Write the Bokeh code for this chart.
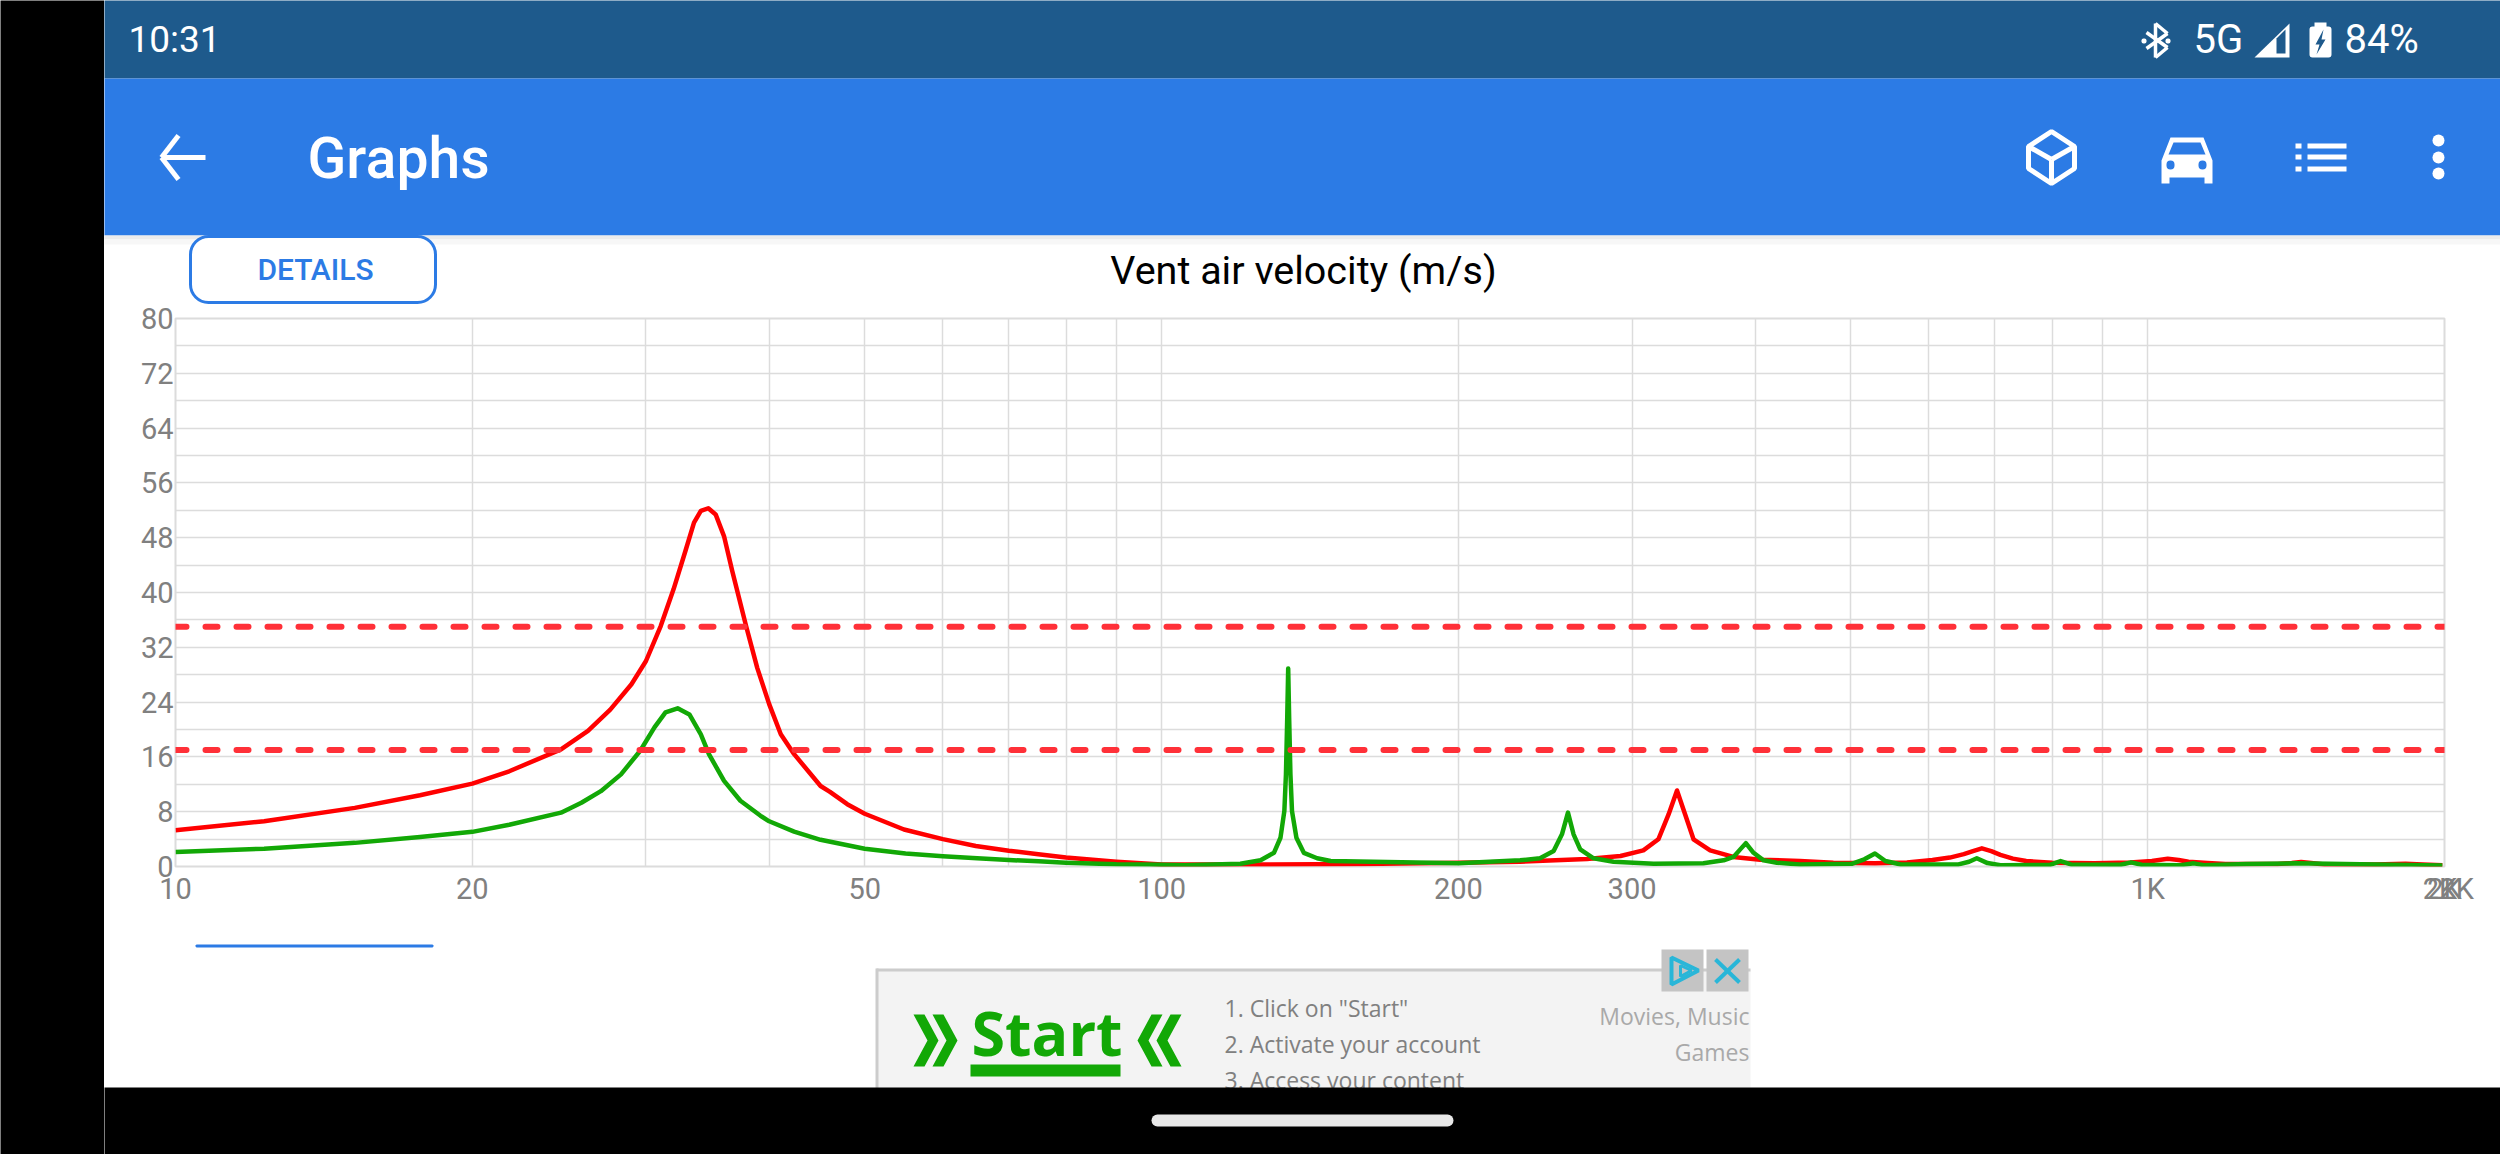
# vent air velocity graph, phone screenshot
from bokeh.embed import file_html
from bokeh.layouts import column, row
from bokeh.models import BoxAnnotation, FixedTicker, Label, PolyAnnotation, Range1d
from bokeh.plotting import figure
from bokeh.resources import INLINE

# values
red_freq = [10, 12.3, 15.2, 17.7, 20, 21.8, 24.6, 26.2, 27.6, 29, 30, 31.05, 32, 32.9, 33.56, 34.1, 34.7, 35.3, 36, 36.7,
            37.9, 38.9, 40, 41.1, 42.4, 45.1, 46.1, 48, 50, 54.8, 60, 64.8, 70, 75, 80, 90, 100, 126, 160, 200,
            231, 270, 292, 308, 319, 326.7, 333.2, 339.6, 346.3, 360, 380, 404.6, 444, 480, 529, 570, 605, 630, 651,
            665, 679, 694, 709, 730, 753, 800, 883, 960, 1010, 1048, 1075, 1100, 1150, 1199, 1354, 1400, 1431, 1465, 1511,
            1700, 1826, 1900, 1990]
red_vals = [5.3, 6.6, 8.56, 10.4, 12.1, 13.9, 17.1, 19.8, 22.9, 26.6, 30, 35.1, 40.5, 46.1, 50.2, 51.9, 52.3, 51.4, 48.2, 43.1,
            35.1, 29, 23.7, 19.3, 16.4, 11.75, 10.9, 9.1, 7.7, 5.4, 4, 3, 2.3, 1.8, 1.3, 0.7, 0.3, 0.3, 0.35, 0.56,
            0.7, 1.1, 1.53, 2.36, 3.97, 7.6, 11.1, 7.6, 3.97, 2.36, 1.4, 1, 0.8, 0.56, 0.46, 0.6, 0.95, 1.3, 1.8,
            2.25, 2.65, 2.25, 1.7, 1.15, 0.8, 0.55, 0.46, 0.6, 0.8, 1.14, 0.95, 0.7, 0.5, 0.37, 0.37, 0.5, 0.66, 0.5, 0.3,
            0.3, 0.41, 0.3, 0.2]
green_freq = [10, 12.3, 15.2, 17.7, 20, 21.8, 24.6, 25.8, 27, 28.3, 29.6, 30.6, 31.4, 32.3, 33.2, 34.1, 34.75, 36, 37.4,
              39.2, 40, 42.4, 45.1, 50, 55, 60, 65, 70, 75, 80, 90, 100, 105.6, 120.2, 126, 130, 132, 133.2, 133.7,
              134.1, 134.4, 134.7, 135.1, 135.6, 137, 139.4, 143.8, 148.4, 200, 231, 242, 249.8, 254.7, 258.3, 261.7,
              265.8, 274.2, 287.3, 315.5, 354.4, 371.5, 380.2, 386.2, 391.3, 398.4, 407.8, 420.7, 444, 501, 516, 529, 542,
              562, 643, 659, 671, 688, 709, 796, 816, 836, 939, 962, 986, 1080, 1114, 1141, 1259, 1413, 1990]
green_vals = [2.1, 2.6, 3.45, 4.3, 5.06, 6.1, 7.86, 9.3, 11, 13.45, 16.9, 20.3, 22.5, 23.1, 22.2, 19.3, 16.4, 12.5, 9.6,
              7.4, 6.6, 5.1, 3.9, 2.6, 1.9, 1.5, 1.2, 0.95, 0.75, 0.56, 0.32, 0.27, 0.17, 0.4, 0.9, 2, 4.2, 8.1, 13.5,
              21.7, 28.9, 21.7, 13.5, 8.1, 4.2, 2, 1.2, 0.8, 0.46, 0.9, 1.2, 2.26, 4.7, 7.86, 4.7,
              2.5, 1.2, 0.7, 0.41, 0.46, 0.9, 1.4, 2.5, 3.4, 2, 0.9, 0.56, 0.3, 0.4, 1.05, 1.9, 0.8,
              0.3, 0.3, 0.7, 1.2, 0.5, 0.2, 0.25, 0.8, 0.3, 0.25, 0.6, 0.25, 0.2, 0.46, 0.2, 0.37, 0.46, 0.15]
limit_freq = [10, 2000]
limit_high = [35, 35]
limit_low = [17, 17]

# the app piles several 2K labels up at the right end, hence the three last ticks
x_tick_vals = [10, 20, 50, 100, 200, 300, 1000, 1979, 1990, 2000]
x_tick_text = ["10", "20", "50", "100", "200", "300", "1K", "2K", "\u00a0\u00a0\u00a0\u00a02K", "2K"]
x_grid_vals = [10, 20, 30, 40, 50, 60, 70, 80, 90, 100, 200, 300, 400, 500, 600, 700, 800, 900, 1000, 2000]
y_tick_vals = [0, 8, 16, 24, 32, 40, 48, 56, 64, 72, 80]
y_grid_vals = [0, 4, 8, 12, 16, 20, 24, 28, 32, 36, 40, 44, 48, 52, 56, 60, 64, 68, 72, 76, 80]

RED = "#ff0000"
GREEN = "#12a806"
DASH = "#ff3038"
GRID = "#dcdcdc"
TICK = "#808080"
BAR = "#1e5a8c"
BLUE = "#2c7be5"

# the chart itself
p = figure(width=2396, height=625, x_axis_type="log", output_backend="svg", toolbar_location=None,
           x_range=Range1d(10, 2000), y_range=Range1d(0, 80), frame_align=False,
           min_border_left=71, min_border_right=56, min_border_top=13, min_border_bottom=64)
p.background_fill_color = "white"
p.border_fill_color = "white"
p.outline_line_color = GRID
p.outline_line_width = 2

p.xaxis.ticker = FixedTicker(ticks=x_tick_vals)
p.xaxis.major_label_overrides = dict(zip(x_tick_vals, x_tick_text))
p.yaxis.ticker = FixedTicker(ticks=y_tick_vals)
p.xgrid.ticker = FixedTicker(ticks=x_grid_vals)
p.ygrid.ticker = FixedTicker(ticks=y_grid_vals)
p.xgrid.grid_line_color = GRID
p.ygrid.grid_line_color = GRID
p.xgrid.grid_line_width = 1.5
p.ygrid.grid_line_width = 1.5
for ax in (p.xaxis[0], p.yaxis[0]):
    ax.axis_line_color = None
    ax.major_tick_line_color = None
    ax.minor_tick_line_color = None
    ax.major_tick_in = 0
    ax.major_tick_out = 0
    ax.major_label_text_font = "Roboto"
    ax.major_label_text_font_size = "29px"
    ax.major_label_text_color = TICK
p.xaxis.major_label_standoff = 5
p.yaxis.major_label_standoff = 2

p.line(red_freq, red_vals, line_color=RED, line_width=4.5, line_join="round")
p.line(green_freq, green_vals, line_color=GREEN, line_width=4.5, line_join="round")
p.line(limit_freq, limit_high, line_color=DASH, line_width=6, line_dash="12 19", line_dash_offset=1, line_cap="round")
p.line(limit_freq, limit_low, line_color=DASH, line_width=6, line_dash="12 19", line_dash_offset=1, line_cap="round")


# the rest of the screen: plain figures whose ranges are the page's pixels
def screen_part(width, height, left, right, top, bottom):
    fig = figure(width=width, height=height, output_backend="svg", toolbar_location=None,
                 x_axis_location=None, y_axis_location=None, frame_align=False,
                 x_range=Range1d(left, right), y_range=Range1d(bottom, top),
                 min_border=0, min_border_left=0, min_border_right=0, min_border_top=0, min_border_bottom=0)
    fig.grid.visible = False
    fig.outline_line_color = None
    fig.background_fill_color = "white"
    fig.border_fill_color = "white"
    return fig


def box(fig, left, top, right, bottom, color, radius=0, border=None, border_width=0):
    fig.add_layout(BoxAnnotation(left=left, right=right, top=top, bottom=bottom,
                                 fill_color=color, fill_alpha=1, line_color=border, line_alpha=1,
                                 line_width=border_width, border_radius=radius, level="annotation"))


def poly(fig, points, color=None, border=None, border_width=0):
    fig.add_layout(PolyAnnotation(xs=[a for a, b in points], ys=[b for a, b in points],
                                  fill_color=color, fill_alpha=1 if color else 0, line_color=border, line_alpha=1,
                                  line_width=border_width, level="annotation"))


def stroke(fig, x0, y0, x1, y1, width, color="white"):
    dx, dy = x1 - x0, y1 - y0
    size = (dx * dx + dy * dy) ** 0.5
    nx, ny = -dy / size * width / 2, dx / size * width / 2
    poly(fig, [(x0 + nx, y0 + ny), (x1 + nx, y1 + ny), (x1 - nx, y1 - ny), (x0 - nx, y0 - ny)], color)


def text(fig, x, y, s, size, color="white", font="Roboto", align="left", style="normal"):
    fig.add_layout(Label(x=x, y=y, text=s, text_font=font, text_font_size=f"{size}px", text_color=color,
                         text_align=align, text_baseline="middle", text_font_style=style, level="annotation"))


def chevron(fig, x, y, direction):
    w, h, t = 14 * direction, 26, 11 * direction
    poly(fig, [(x, y - h), (x + t, y - h), (x + t + w, y), (x + t, y + h), (x, y + h), (x + w, y)], GREEN)


side = screen_part(104, 1154, 0, 104, 0, 1154)
box(side, -10, -10, 114, 1164, "black")

top = screen_part(2396, 305, 104, 2500, 0, 305)

# status bar and app bar (boxes run past the edges so no seams show)
box(top, 94, -10, 2510, 78, BAR)
box(top, 94, 78, 2510, 235, BLUE)
box(top, 94, 235, 2510, 239, "#ececec")
box(top, 94, 239, 2510, 244, "#f7f7f7")
text(top, 128, 39, "10:31", 37)
text(top, 2193, 39, "5G", 40)
text(top, 2344, 39, "84%", 40)
text(top, 307, 158, "Graphs", 57, font="Roboto Medium")

# bluetooth
for seg in [(2155, 23, 2155, 57), (2155, 23, 2167, 33), (2167, 33, 2146, 48), (2155, 57, 2167, 47), (2167, 47, 2146, 32)]:
    stroke(top, *seg, 3.5)
box(top, 2141, 38, 2146, 43, "white", radius=2)
box(top, 2165, 38, 2170, 43, "white", radius=2)
# signal
poly(top, [(2289, 23), (2289, 57), (2254, 57)], "white")
poly(top, [(2276, 38), (2285, 29), (2285, 53), (2276, 53)], BAR)
# battery
box(top, 2314, 22, 2326, 27, "white")
box(top, 2309, 26, 2331, 57, "white", radius=3)
poly(top, [(2323, 29), (2315, 44), (2319, 44), (2316, 54), (2325, 39), (2321, 39)], BAR)

# back arrow
stroke(top, 161, 157, 205, 157, 5)
stroke(top, 161, 157, 178, 135, 5)
stroke(top, 161, 157, 178, 179, 5)

# cube
poly(top, [(2051, 131), (2074, 146), (2074, 168), (2051, 183), (2028, 168), (2028, 146)], None, "white", 5)
stroke(top, 2028, 146, 2051, 159, 5)
stroke(top, 2074, 146, 2051, 159, 5)
stroke(top, 2051, 159, 2051, 183, 5)

# car
poly(top, [(2170, 137), (2203, 137), (2212, 160), (2212, 183), (2204, 183), (2204, 177), (2169, 177), (2169, 183),
           (2161, 183), (2161, 160)], "white")
poly(top, [(2173, 142), (2200, 142), (2205, 154), (2168, 154)], BLUE)
box(top, 2166, 160, 2174, 169, BLUE, radius=4)
box(top, 2198, 160, 2206, 169, BLUE, radius=4)

# list
for y in (143, 154, 166):
    box(top, 2295, y, 2301, y + 5, "white")
    box(top, 2307, y, 2346, y + 5, "white")

# menu dots
for cy in (140, 157, 173):
    box(top, 2432, cy - 6, 2444, cy + 6, "white", radius=6)

box(top, 190, 236, 435, 302, "white", radius=18, border=BLUE, border_width=3)
text(top, 315, 269, "DETAILS", 30, BLUE, align="center", font="Roboto Medium")
text(top, 1303, 270, "Vent air velocity (m/s)", 39.5, "black", align="center")

bottom = screen_part(2396, 224, 104, 2500, 930, 1154)
box(bottom, 196, 945, 432, 946, BLUE, border=BLUE, border_width=2)

# ad, with a border only on its top and left
box(bottom, 876, 969, 1750, 1090, "#f3f3f3")
box(bottom, 876, 968, 1750, 971, "#cccccc")
box(bottom, 875, 968, 878, 1090, "#cccccc")
chevron(bottom, 913, 1040, 1)
chevron(bottom, 932, 1040, 1)
chevron(bottom, 1181, 1040, -1)
chevron(bottom, 1162, 1040, -1)
text(bottom, 971, 1032, "Start", 61, GREEN, font="Open Sans", style="bold")
box(bottom, 970, 1064, 1120, 1076, GREEN)
text(bottom, 1224, 1007, '1. Click on "Start"', 23, TICK, font="Open Sans")
text(bottom, 1224, 1043, "2. Activate your account", 23, TICK, font="Open Sans")
text(bottom, 1224, 1079, "3. Access your content", 23, TICK, font="Open Sans")
text(bottom, 1749, 1015, "Movies, Music", 23, "#a9a9a9", font="Open Sans", align="right")
text(bottom, 1749, 1051, "Games", 23, "#a9a9a9", font="Open Sans", align="right")
box(bottom, 1661, 949, 1703, 991, "#c4c4c4")
box(bottom, 1706, 949, 1748, 991, "#c4c4c4")
poly(bottom, [(1671, 957), (1698, 970), (1671, 984)], None, "#29b6d8", 4)
poly(bottom, [(1680, 965), (1691, 970), (1680, 976)], None, "#29b6d8", 3)
stroke(bottom, 1715, 959, 1739, 982, 4, "#29b6d8")
stroke(bottom, 1739, 959, 1715, 982, 4, "#29b6d8")

# black foot of the phone
box(bottom, 94, 1087, 2510, 1164, "black")
box(bottom, 1151, 1114, 1453, 1126, "#e8e8e8", radius=6)

page = row(side, column(top, p, bottom))
open("out.html", "w").write(file_html(page, INLINE))
